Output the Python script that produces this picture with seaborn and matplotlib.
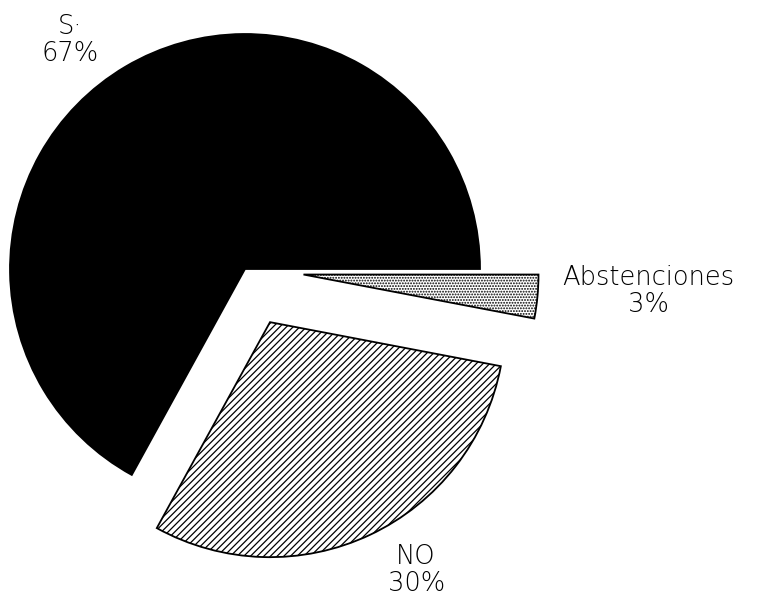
import matplotlib
matplotlib.use("Agg")
import matplotlib.pyplot as plt
import seaborn as sns

# Referendum result shares
categories = ["S·", "NO", "Abstenciones"]
shares = [67, 30, 3]
pct_labels = ["67%", "30%", "3%"]

sns.set_theme(style="white")
plt.rcParams["font.family"] = ["DejaVu Sans"]
plt.rcParams["hatch.linewidth"] = 0.9
plt.rcParams["hatch.color"] = "black"

fig = plt.figure(figsize=(7.61, 5.99), dpi=100)
ax = fig.add_axes([0, 0, 1, 1])

wedges, texts = ax.pie(
    shares,
    labels=[f"{c}\n{p}" for c, p in zip(categories, pct_labels)],
    colors=["black", "white", "white"],
    explode=[0, 0.25, 0.25],
    startangle=0,
    counterclock=True,
    radius=1.0,
    wedgeprops=dict(edgecolor="black", linewidth=1.3),
    textprops=dict(fontsize=18.5, fontweight="light", color="black",
                   ha="center", va="center", linespacing=1.1),
)

wedges[1].set_hatch("/////")
wedges[2].set_hatch("......")

# label placement around the pie
label_pos = [(-0.745, 0.974), (0.728, -1.281), (1.715, -0.094)]
for t, pos in zip(texts, label_pos):
    t.set_position(pos)
    t.set_horizontalalignment("center")
    t.set_verticalalignment("center")

ax.set_xlim(-245 / 235, (761 - 245) / 235)
ax.set_ylim(-(599 - 269) / 235, 269 / 235)
ax.set_aspect("equal")
ax.axis("off")

fig.savefig("out.png", dpi=100, facecolor="white")
